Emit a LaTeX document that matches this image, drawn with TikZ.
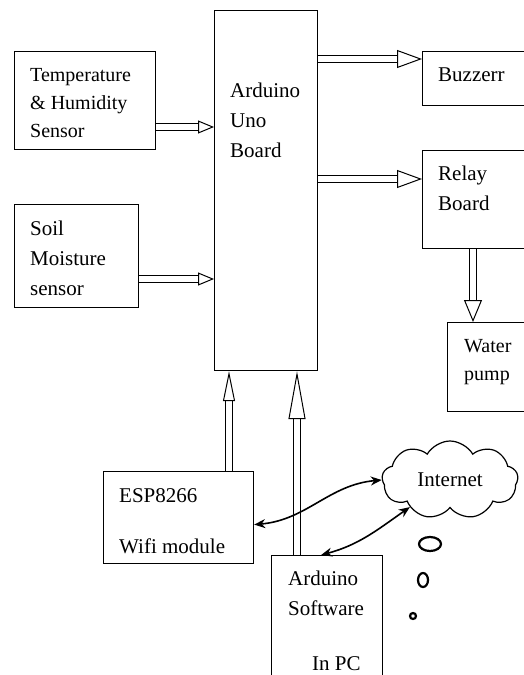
\documentclass[tikz,border=0pt]{standalone}
\usepackage{fontspec}
\setmainfont{Liberation Serif}
\usetikzlibrary{arrows.meta,shapes.symbols,positioning}
\tikzset{%
  blk/.style      = {draw, rectangle, line width=1.2pt, anchor=north west, inner sep=0pt},%
  txt/.style      = {align=left, inner sep=0pt, anchor=base west,%
                     font=\fontsize{21}{30}\selectfont},%
  fat/.style 2 args = {double, double distance=5.2pt, line width=1pt,%
                     -{Triangle[open, length=#1, width=#2]}},%
  link/.style     = {line width=1.6pt, {Stealth[length=11pt, width=9pt]}-{Stealth[length=11pt, width=9pt]}},%
  bubble/.style   = {line width=2.2pt}%
}

\begin{document}
\begin{tikzpicture}[x=1pt, y=-1pt]%
	\useasboundingbox (0,0) rectangle (524,675);
	% blocks
	\node[blk, minimum width=103pt, minimum height=360pt] (ard)   at (214,10)  {};%
	\node[blk, minimum width=141pt, minimum height=98pt]  (temp)  at (14,51)   {};%
	\node[blk, minimum width=124pt, minimum height=103pt] (soil)  at (14,204)  {};%
	\node[blk, minimum width=110pt, minimum height=54pt]  (buzz)  at (422,51)  {};%
	\node[blk, minimum width=110pt, minimum height=98pt]  (relay) at (422,150) {};%
	\node[blk, minimum width=90pt,  minimum height=89pt]  (pump)  at (447,322) {};%
	\node[blk, minimum width=150pt, minimum height=92pt]  (esp)   at (103,471) {};%
	\node[blk, minimum width=111pt, minimum height=130pt] (soft)  at (271,555) {};%
	\node[cloud, draw, line width=1.2pt, cloud puffs=9, cloud puff arc=120, aspect=1.8,%
	      minimum width=136pt, minimum height=78pt, inner sep=0pt,%
	      font=\fontsize{21}{30}\selectfont] (cloud) at (450,480) {Internet};%
	% texts (anchored at the baseline of their last line)
	\node[txt] (ardtxt)   at ([shift={(16,147)}]ard.north west)  {Arduino\\Uno\\Board};%
	\node[txt, font=\fontsize{20}{28}\selectfont] (temptxt) at ([shift={(16,86)}]temp.north west) {Temperature\\\& Humidity\\Sensor};%
	\node[txt] (soiltxt)  at ([shift={(16,91)}]soil.north west)  {Soil\\Moisture\\sensor};%
	\node[txt] (buzztxt)  at ([shift={(16,30)}]buzz.north west)  {Buzzerr};%
	\node[txt] (relaytxt) at ([shift={(16,60)}]relay.north west) {Relay\\Board};%
	\node[txt, font=\fontsize{20}{28}\selectfont] (pumptxt) at ([shift={(17,58)}]pump.north west) {Water\\pump};%
	\node[txt] (esptxt)   at ([shift={(16,82)}]esp.north west)   {ESP8266\\[21pt]Wifi module};%
	\node[txt] (softtxt)  at ([shift={(17,115)}]soft.north west) {Arduino\\Software\\[25pt]\hspace*{24pt}In PC};%
	% hollow arrows
	\draw[fat={16pt}{13pt}] (temp.east |- 0,127) -- (ard.west |- 0,127);%
	\draw[fat={16pt}{13pt}] (soil.east |- 0,279) -- (ard.west |- 0,279);%
	\draw[fat={25pt}{18pt}] (ard.east |- 0,59)   -- (buzz.west |- 0,59);%
	\draw[fat={25pt}{18pt}] (ard.east |- 0,179)  -- (relay.west |- 0,179);%
	\draw[fat={22pt}{18pt}] (473,0 |- relay.south) -- (473,0 |- pump.north);%
	\draw[fat={30pt}{12pt}] (229,0 |- esp.north)  -- (229,0 |- ard.south);%
	\draw[fat={48pt}{17pt}] (297,0 |- soft.north) -- (297,0 |- ard.south);%
	% links to the cloud
	\draw[link] ([yshift=-7pt]esp.east) to[out=5, in=185] (cloud.west);%
	\draw[link] ([xshift=-6pt]soft.north) to[out=15, in=215] (cloud.214);%
	% thought bubbles
	\draw[bubble] (430,544) ellipse (11pt and 7pt);%
	\draw[bubble] (423,580) ellipse (5pt and 7pt);%
	\draw[bubble] (413,616) circle (3pt);%
\end{tikzpicture}
\end{document}
